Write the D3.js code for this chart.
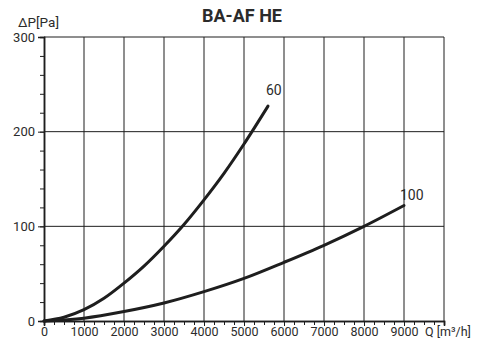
<!DOCTYPE html>
<html>
<head>
<meta charset="utf-8">
<script src="https://cdn.jsdelivr.net/npm/d3@7"></script>
<style>
  html, body { margin: 0; padding: 0; background: #fff; }
  svg { display: block; }
  text { font-family: Roboto, "Liberation Sans", sans-serif; fill: #2b2b2b; }
</style>
</head>
<body>
<svg id="chart" width="485" height="340"></svg>
<script>
// ---- data ----
const title = "BA-AF HE";
const yLabel = "ΔP[Pa]";
const xLabel = "Q [m³/h]";
const xMajorTicks = [0, 1000, 2000, 3000, 4000, 5000, 6000, 7000, 8000, 9000];
const yMajorTicks = [0, 100, 200, 300];
const flow60 = [0, 500, 1000, 1500, 2000, 2500, 3000, 3500, 4000, 4500, 5000, 5600];
const dp60   = [0, 4, 12, 24, 40, 58, 79, 102, 128, 156, 187, 227];
const flow100 = [0, 1000, 2000, 3000, 4000, 5000, 6000, 7000, 8000, 9000];
const dp100   = [0, 3, 10, 19, 31, 45, 62, 80, 100, 122];
const seriesNames = ["60", "100"];

// ---- layout ----
const svg = d3.select("#chart");
const x = d3.scaleLinear().domain([0, 10000]).range([44, 444]);
const y = d3.scaleLinear().domain([0, 300]).range([321, 37]);
const ink = "#1e1e1e";

// grid
const grid = svg.append("g");
grid.selectAll("line.v").data(d3.range(1000, 10001, 1000)).enter().append("line")
  .attr("x1", d => x(d)).attr("x2", d => x(d))
  .attr("y1", y(0)).attr("y2", y(300))
  .attr("stroke", ink).attr("stroke-width", 1);
grid.selectAll("line.h").data([100, 200, 300]).enter().append("line")
  .attr("x1", x(0)).attr("x2", x(10000))
  .attr("y1", d => y(d)).attr("y2", d => y(d))
  .attr("stroke", ink).attr("stroke-width", 1);

// x axis minor ticks
const xMinor = svg.append("g").attr("transform", `translate(0,${y(0)})`)
  .call(d3.axisBottom(x).tickValues(d3.range(0, 10001, 250)).tickSize(4).tickFormat(""));
// x axis major
const xAxis = svg.append("g").attr("transform", `translate(0,${y(0)})`)
  .call(d3.axisBottom(x).tickValues(xMajorTicks).tickSize(5).tickPadding(1).tickFormat(d3.format("d")));
xAxis.selectAll("text").attr("font-size", 12.5).attr("dy", "0.71em");
[xMinor, xAxis].forEach(g => { g.selectAll("line").attr("stroke", ink); g.select(".domain").attr("stroke", ink).attr("stroke-width", 1.5); });

// y axis minor ticks
const yMinor = svg.append("g").attr("transform", `translate(${x(0)},0)`)
  .call(d3.axisLeft(y).tickValues(d3.range(0, 301, 20)).tickSize(4).tickFormat(""));
const yAxis = svg.append("g").attr("transform", `translate(${x(0)},0)`)
  .call(d3.axisLeft(y).tickValues(yMajorTicks).tickSize(6).tickPadding(3));
yAxis.selectAll("text").attr("font-size", 13);
[yMinor, yAxis].forEach(g => { g.selectAll("line").attr("stroke", ink); g.select(".domain").attr("stroke", ink).attr("stroke-width", 1.5); });

// axis labels & title
svg.append("text").attr("x", 18).attr("y", 27).attr("font-size", 13.5).text(yLabel);
svg.append("text").attr("x", 425).attr("y", 336).attr("font-size", 12.5).text(xLabel);
svg.append("text").attr("x", 242).attr("y", 22).attr("text-anchor", "middle")
  .attr("font-size", 18).attr("font-weight", "bold").text(title);

// curves
const line = d3.line().x(d => x(d[0])).y(d => y(d[1])).curve(d3.curveMonotoneX);
const series = [
  { name: seriesNames[0], pts: d3.zip(flow60, dp60), dx: -2, dy: -11 },
  { name: seriesNames[1], pts: d3.zip(flow100, dp100), dx: -4, dy: -6 }
];
series.forEach(s => {
  svg.append("path").datum(s.pts).attr("d", line)
    .attr("fill", "none").attr("stroke", ink).attr("stroke-width", 3).attr("stroke-linecap", "round");
  const last = s.pts[s.pts.length - 1];
  svg.append("text").attr("x", x(last[0]) + s.dx).attr("y", y(last[1]) + s.dy)
    .attr("font-size", 14).attr("fill", "#333").text(s.name);
});
</script>
</body>
</html>
